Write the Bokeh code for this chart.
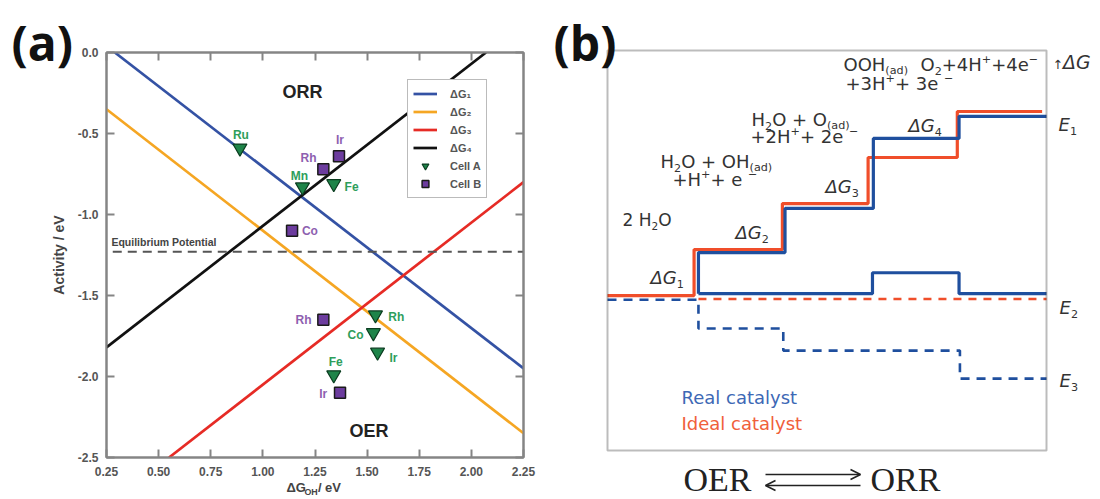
import math
from bokeh.plotting import figure
from bokeh.models import (Range1d, LinearAxis, FixedTicker, NumeralTickFormatter, Label,
                          Legend, LegendItem, Arrow, OpenHead, ColumnDataSource, BoxAnnotation)
from bokeh.core.properties import value
from bokeh.layouts import row, column
from bokeh.embed import file_html
from bokeh.resources import INLINE

# ------------------------------------------------------------------ data (a)
x_ticks = [0.25, 0.50, 0.75, 1.00, 1.25, 1.50, 1.75, 2.00, 2.25]
y_ticks = [0.0, -0.5, -1.0, -1.5, -2.0, -2.5]
dg_labels = ["ΔG₁", "ΔG₂", "ΔG₃", "ΔG₄"]
dg1_x = [0.29, 2.25]; dg1_y = [0.00, -1.95]
dg2_x = [0.25, 2.25]; dg2_y = [-0.35, -2.35]
dg3_x = [0.55, 2.25]; dg3_y = [-2.50, -0.80]
dg4_x = [0.25, 2.07]; dg4_y = [-1.82, 0.00]
eq_x = [0.28, 2.25]; eq_y = [-1.23, -1.23]
cellA_names = ["Ru", "Mn", "Fe", "Rh", "Co", "Ir", "Fe"]
cellA_x = [0.89, 1.19, 1.34, 1.54, 1.53, 1.55, 1.34]
cellA_y = [-0.59, -0.83, -0.81, -1.62, -1.73, -1.85, -1.99]
cellB_names = ["Ir", "Rh", "Co", "Rh", "Ir"]
cellB_x = [1.365, 1.29, 1.14, 1.29, 1.37]
cellB_y = [-0.64, -0.72, -1.10, -1.65, -2.10]

# ------------------------------------------------------------------ data (b)
ideal_x0, ideal_x1 = 0.00, 4.97
ideal_steps = [0.99, 2.00, 2.98, 4.00]
ideal_levels = [0.00, 1.23, 2.46, 3.69, 4.92]
real_x0, real_x1 = 1.04, 5.02
real_steps = [1.04, 2.03, 3.04, 4.02]
real_levels = [0.05, 1.15, 2.33, 4.20, 4.79]
real_base_steps = [3.03, 4.02]
real_base_levels = [0.05, 0.61, 0.05]
ideal_dash_levels = [-0.09]
real_dash_x0, real_dash_x1 = 0.00, 5.02
real_dash_steps = [1.04, 2.01, 4.03]
real_dash_levels = [-0.11, -0.88, -1.47, -2.22]

# ------------------------------------------------------------------ layout helpers
cellA_off = [(1, -13), (-3, -11), (18, 3), (21, 2), (-18, 2), (16, 6), (2, -13)]
cellB_off = [(1, -16), (-15, -11), (18, 0), (-20, 0), (-17, 1)]

DEJAVU = {' ': 318, '+': 838, '−': 838, '(': 390, ')': 390, 'H': 752, 'O': 787, 'E': 632,
          'G': 775, 'Δ': 684, 'a': 613, 'd': 635, 'e': 615, '↑': 838, 'R': 695, 'c': 550,
          'l': 278, 't': 392, 'y': 592, 's': 521, 'I': 295, 'i': 278}
for _d in "0123456789":
    DEJAVU[_d] = 636
ARIALB = {' ': 278, 'Δ': 722, 'G': 778, 'O': 778, 'H': 722, '/': 278, 'e': 556, 'V': 667}
# distance (in em) from the alphabetic baseline up to the middle of the font box
MID = {"DejaVu Sans": 0.346, "Liberation Sans": 0.3465, "Liberation Serif": 0.3375,
       "Open Sans": 0.388}

FIG_H = 499


def rich(p, mapx, mapy, xr, yr, segs, size, color, font, table, bold=False):
    """Draw a run of text pieces (normal / italic / sub / sup); (xr, yr) = left end of baseline."""
    cx = 0.0
    for seg in segs:
        txt, kind = seg[0], seg[1]
        scale = seg[2] if len(seg) > 2 else 1.0
        if kind == "pad":
            cx += scale
            continue
        fs = size * scale
        dy = 0.0
        if kind == "sub":
            fs = size * 0.62 * scale
            dy = size * 0.22
        elif kind == "sup":
            fs = size * 0.62 * scale
            dy = -size * 0.42
        style = "italic" if kind == "i" else "normal"
        if bold:
            style = "bold italic" if kind == "i" else "bold"
        p.add_layout(Label(x=mapx(xr + cx), y=mapy(yr + dy - MID[font] * fs), text=txt,
                           text_font=font, text_font_size=f"{fs:.1f}px",
                           text_font_style=style, text_color=color,
                           text_align="left", text_baseline="middle"))
        cx += sum(table.get(ch, 600) for ch in txt) / 1000.0 * fs


def plain(p, mapx, mapy, xr, yr, txt, size, color, font, style="normal"):
    p.add_layout(Label(x=mapx(xr), y=mapy(yr - MID[font] * size), text=txt, text_font=font,
                       text_font_size=f"{size}px", text_font_style=style, text_color=color,
                       text_align="left", text_baseline="middle"))


def step_path(x0, steps, levels, x1):
    xs, ys = [x0], [levels[0]]
    for s, lo, hi in zip(steps, levels[:-1], levels[1:]):
        xs += [s, s]
        ys += [lo, hi]
    xs.append(x1)
    ys.append(levels[-1])
    return xs, ys


def blank_fig(w, h, xr, yr):
    f = figure(width=w, height=h, x_range=xr, y_range=yr, output_backend="svg",
               toolbar_location=None, x_axis_location=None, y_axis_location=None,
               min_border_left=0, min_border_right=0, min_border_top=0, min_border_bottom=0)
    f.grid.visible = False
    f.outline_line_color = None
    return f


def ident(v):
    return v


# ------------------------------------------------------------------ left strip: (a) and y label
P0_W = 74
p0 = blank_fig(P0_W, FIG_H, Range1d(0, P0_W), Range1d(FIG_H, 0))
plain(p0, ident, ident, 11, 61, "(a)", 48, "#111111", "Open Sans", "bold")
p0.add_layout(Label(x=58, y=254.5, text="Activity / eV", angle=math.pi / 2,
                    text_font="Liberation Sans", text_font_style="bold",
                    text_font_size="14px", text_color="#444444",
                    text_align="center", text_baseline="middle"))

# ------------------------------------------------------------------ panel (a)
AXC = "#858585"
FA_W, FA_H = 421, 405
PA_W, PA_H = 475, 480
pa = figure(width=PA_W, height=PA_H, x_range=Range1d(0.25, 2.25), y_range=Range1d(-2.5, 0.0),
            output_backend="svg", toolbar_location=None,
            min_border_left=28, min_border_right=26, min_border_top=52, min_border_bottom=23)
pa.grid.visible = False
pa.outline_line_color = AXC
pa.outline_line_width = 2


def ax_(xr):
    return 0.25 + (xr - 102) / FA_W * 2.0


def ay_(yr):
    return -(yr - 52) / FA_H * 2.5


def style_axis(axis, ticks, fmt, labels=True):
    axis.ticker = FixedTicker(ticks=ticks)
    axis.formatter = NumeralTickFormatter(format=fmt)
    axis.major_tick_in = 8
    axis.major_tick_out = 0
    axis.minor_tick_line_color = None
    axis.axis_line_color = AXC
    axis.axis_line_width = 2
    axis.major_tick_line_color = AXC
    axis.major_tick_line_width = 2
    axis.major_label_text_font = "Liberation Sans"
    axis.major_label_text_font_style = "bold"
    axis.major_label_text_color = "#555555"
    axis.major_label_text_font_size = "12px"
    if not labels:
        axis.major_label_text_color = None
        axis.major_label_text_font_size = "6px"
        axis.major_label_standoff = 0


style_axis(pa.xaxis[0], x_ticks, "0.00")
pa.xaxis[0].major_label_standoff = 9
style_axis(pa.yaxis[0], y_ticks, "0.0")
pa.yaxis[0].major_label_standoff = 8
top_ax = LinearAxis()
style_axis(top_ax, x_ticks, "0.00", labels=False)
pa.add_layout(top_ax, "above")
right_ax = LinearAxis()
style_axis(right_ax, y_ticks, "0.0", labels=False)
pa.add_layout(right_ax, "right")

line_colors = ["#3452a4", "#f5a623", "#e62b25", "#111111"]
r_lines = []
for (xs, ys), c in zip([(dg1_x, dg1_y), (dg2_x, dg2_y), (dg3_x, dg3_y), (dg4_x, dg4_y)], line_colors):
    r_lines.append(pa.line(xs, ys, line_color=c, line_width=2.7))
pa.line(eq_x, eq_y, line_color="#555555", line_width=2, line_dash="9 6")

ra = pa.scatter(cellA_x, cellA_y, marker="inverted_triangle", size=14, fill_color="#1e8449",
                line_color="#0b3d20", line_width=1.2)
rb = pa.scatter(cellB_x, cellB_y, marker="square", size=11, fill_color="#6c3c9e",
                line_color="#1a1a1a", line_width=1.5)

srcA = ColumnDataSource(dict(x=[x + o[0] / 210.5 for x, o in zip(cellA_x, cellA_off)],
                             y=[y - o[1] / 162.0 for y, o in zip(cellA_y, cellA_off)],
                             t=cellA_names))
srcB = ColumnDataSource(dict(x=[x + o[0] / 210.5 for x, o in zip(cellB_x, cellB_off)],
                             y=[y - o[1] / 162.0 for y, o in zip(cellB_y, cellB_off)],
                             t=cellB_names))
pa.text(x="x", y="y", text="t", source=srcA, text_font=value("Liberation Sans"),
        text_font_style="bold", text_font_size="12px", text_color="#2e9e5b",
        text_align="center", text_baseline="middle")
pa.text(x="x", y="y", text="t", source=srcB, text_font=value("Liberation Sans"),
        text_font_style="bold", text_font_size="12px", text_color="#8e5fb0",
        text_align="center", text_baseline="middle")

pa.add_layout(Label(x=ax_(300), y=ay_(91), text="ORR", text_font="Liberation Sans",
                    text_font_style="bold", text_font_size="18px", text_color="#222222",
                    text_align="center", text_baseline="middle"))
pa.add_layout(Label(x=ax_(367), y=ay_(430), text="OER", text_font="Liberation Sans",
                    text_font_style="bold", text_font_size="18px", text_color="#222222",
                    text_align="center", text_baseline="middle"))
plain(pa, ax_, ay_, 107, 245, "Equilibrium Potential", 10.5, "#444444", "Liberation Sans", "bold")

legend = Legend(items=[LegendItem(label=lab, renderers=[r]) for lab, r in zip(dg_labels, r_lines)]
                + [LegendItem(label="Cell A", renderers=[ra]), LegendItem(label="Cell B", renderers=[rb])],
                location=(301, 259), margin=0, padding=5, spacing=1, glyph_width=24,
                glyph_height=17, label_height=17, label_standoff=13,
                label_text_font="Liberation Sans", label_text_font_size="11px",
                label_text_font_style="bold", label_text_color="#555555",
                border_line_color="#777777", border_line_width=1.5,
                background_fill_color="white", background_fill_alpha=1.0)
pa.add_layout(legend)

# ------------------------------------------------------------------ strip under (a): x label
PX_H = FIG_H - PA_H
pxl = blank_fig(PA_W, PX_H, Range1d(0, PA_W), Range1d(PX_H, 0))


def cxx(xr):
    return xr - P0_W


def cxy(yr):
    return yr - PA_H


rich(pxl, cxx, cxy, 279, 492, [("ΔG", "n"), ("", "pad", 1), ("OH", "sub", 1.1), ("", "pad", 2),
                               ("/ eV", "n")], 13,
     "#444444", "Liberation Sans", ARIALB, bold=True)

# ------------------------------------------------------------------ panel (b)
YB0, YB1 = -4.14, 6.55
XB1 = 5.02
PB_X = P0_W + PA_W       # canvas left of panel b on the page
PB_W = 1100 - PB_X
SX = 439 / XB1          # px per x unit
SY = 400 / (YB1 - YB0)  # px per y unit
BOX_L, BOX_T = 607 - PB_X, 50
pb = blank_fig(PB_W, FIG_H,
               Range1d(-BOX_L / SX, XB1 + (PB_W - BOX_L - 439) / SX),
               Range1d(YB0 - (FIG_H - BOX_T - 400) / SY, YB1 + BOX_T / SY))
pb.add_layout(BoxAnnotation(left=0, right=XB1, bottom=YB0, top=YB1, fill_color=None,
                            line_color="#222222", line_width=2))


def bx(xr):
    return (xr - 607) / 439 * XB1


def by(yr):
    return YB1 - (yr - 50) / 400 * (YB1 - YB0)


RED = "#f04e2a"
BLUE = "#1f4f9e"
xs, ys = step_path(ideal_x0, ideal_steps, ideal_levels, ideal_x1)
pb.line(xs, ys, line_color=RED, line_width=3.2)
pb.line([real_x0, real_x1], [ideal_dash_levels[0]] * 2, line_color=RED, line_width=2.6,
        line_dash="8 7")
xs, ys = step_path(real_dash_x0, real_dash_steps, real_dash_levels, real_dash_x1)
pb.line(xs, ys, line_color=BLUE, line_width=2.6, line_dash="9 7")
xs, ys = step_path(real_x0, real_steps, real_levels, real_x1)
pb.line(xs, ys, line_color=BLUE, line_width=3.2)
xs, ys = step_path(real_x0, real_base_steps, real_base_levels, real_x1)
pb.line(xs, ys, line_color=BLUE, line_width=3.2)

TXT = "#333333"
F = "DejaVu Sans"
S = 18
rich(pb, bx, by, 622, 225, [("2 H", "n"), ("2", "sub"), ("O", "n")], 17, TXT, F, DEJAVU)
rich(pb, bx, by, 650, 283, [("ΔG", "i"), ("1", "sub")], S, TXT, F, DEJAVU)
rich(pb, bx, by, 735, 238, [("ΔG", "i"), ("2", "sub")], S, TXT, F, DEJAVU)
rich(pb, bx, by, 825, 192, [("ΔG", "i"), ("3", "sub")], S, TXT, F, DEJAVU)
rich(pb, bx, by, 908, 131, [("ΔG", "i"), ("4", "sub")], S, TXT, F, DEJAVU)
rich(pb, bx, by, 660, 167, [("H", "n"), ("2", "sub"), ("O + OH", "n"), ("(ad)", "sub")], S, TXT, F, DEJAVU)
rich(pb, bx, by, 672, 185, [("+H", "n"), ("+", "sup"), (" + e", "n"), ("−", "sup")], S, TXT, F, DEJAVU)
rich(pb, bx, by, 751, 125, [("H", "n"), ("2", "sub"), ("O + O", "n"), ("(ad)", "sub")], S, TXT, F, DEJAVU)
rich(pb, bx, by, 750, 142, [("+2H", "n"), ("+", "sup"), (" + 2e", "n"), ("−", "sup")], S, TXT, F, DEJAVU)
rich(pb, bx, by, 843, 70, [("OOH", "n"), ("(ad)", "sub")], S, TXT, F, DEJAVU)
rich(pb, bx, by, 845, 89, [("+3H", "n"), ("+", "sup"), (" + 3e", "n"), ("−", "sup")], S, TXT, F, DEJAVU)
rich(pb, bx, by, 920, 70, [("O", "n"), ("2", "sub"), ("+4H", "n"), ("+", "sup"), ("+4e", "n"), ("−", "sup")], S, TXT, F, DEJAVU)
rich(pb, bx, by, 681, 403, [("Real catalyst", "n")], S, "#3d68b5", F, DEJAVU)
rich(pb, bx, by, 681, 429, [("Ideal catalyst", "n")], S, "#f0603a", F, DEJAVU)
rich(pb, bx, by, 1052, 68, [("↑", "n", 0.7), ("ΔG", "i", 1.05)], S, TXT, F, DEJAVU)
rich(pb, bx, by, 1058, 130, [("E", "i"), ("1", "sub")], S, TXT, F, DEJAVU)
rich(pb, bx, by, 1059, 313, [("E", "i"), ("2", "sub")], S, TXT, F, DEJAVU)
rich(pb, bx, by, 1059, 386, [("E", "i"), ("3", "sub")], S, TXT, F, DEJAVU)

plain(pb, bx, by, 683, 490, "OER", 34, "#222222", "Liberation Serif")
plain(pb, bx, by, 870, 490, "ORR", 34, "#222222", "Liberation Serif")
pb.add_layout(Arrow(end=OpenHead(size=10, line_width=1.6, line_color="#222222"),
                    x_start=bx(765), y_start=by(474), x_end=bx(860), y_end=by(474),
                    line_width=1.6, line_color="#222222"))
pb.add_layout(Arrow(end=OpenHead(size=10, line_width=1.6, line_color="#222222"),
                    x_start=bx(860), y_start=by(485), x_end=bx(765), y_end=by(485),
                    line_width=1.6, line_color="#222222"))
plain(pb, bx, by, 553, 61, "(b)", 48, "#111111", "Open Sans", "bold")

layout = row(p0, column(pa, pxl), pb)
open("out.html", "w").write(file_html(layout, INLINE))
